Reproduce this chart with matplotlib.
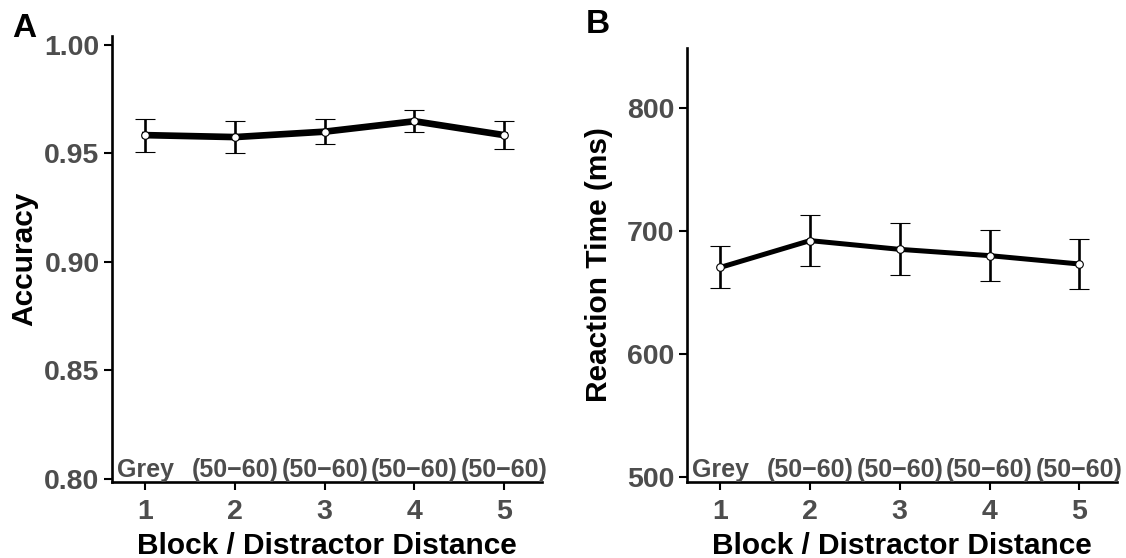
import numpy as np
import matplotlib
matplotlib.use("Agg")
import matplotlib.pyplot as plt
import matplotlib.transforms as mtransforms

plt.rcParams['font.family'] = ['Liberation Sans', 'DejaVu Sans']
plt.rcParams['font.weight'] = 'bold'

# data
blocks = [1, 2, 3, 4, 5]
block_names = ["Grey", "(50\u221260)", "(50\u221260)", "(50\u221260)", "(50\u221260)"]

acc_mean = [0.9584, 0.9575, 0.9600, 0.9648, 0.9584]
acc_err = [0.0076, 0.0072, 0.0057, 0.0050, 0.0063]

rt_mean = [670.4, 692.2, 685.1, 680.0, 673.2]
rt_err = [17.1, 20.5, 21.2, 20.5, 20.1]

tick_grey = '#4d4d4d'

fig = plt.figure(figsize=(11.26, 5.58), dpi=100)
ax_a = fig.add_axes([0.0995, 0.1362, 0.3818, 0.7993])
ax_b = fig.add_axes([0.6101, 0.1362, 0.3819, 0.7783])


def style_axis(ax, ylabel):
    for s in ['top', 'right']:
        ax.spines[s].set_visible(False)
    for s in ['left', 'bottom']:
        ax.spines[s].set_linewidth(1.9)
    ax.tick_params(axis='both', length=6, width=1.5, color='black',
                   labelsize=20.5, labelcolor=tick_grey, pad=3)
    ax.tick_params(axis='x', pad=6)
    ax.set_xticks(blocks)
    ax.set_xlim(0.63, 5.42)
    ax.set_xlabel("Block / Distractor Distance", fontsize=21.5, fontweight='bold', labelpad=5)
    ax.set_ylabel(ylabel, fontsize=21.5, fontweight='bold')
    ax.yaxis.set_label_coords(-0.172, 0.5)
    trans = mtransforms.blended_transform_factory(ax.transData, ax.transAxes)
    for x, name in zip(blocks, block_names):
        ax.text(x, 0.012, name, transform=trans, ha='center', va='baseline',
                fontsize=18, fontweight='bold', color=tick_grey)


# Panel A - accuracy
ax_a.errorbar(blocks, acc_mean, yerr=acc_err, color='black', linewidth=4.8,
              elinewidth=1.9, capsize=7, capthick=1.9, marker='o',
              markersize=5.5, markerfacecolor='white', markeredgecolor='black',
              markeredgewidth=0.8)
ax_a.set_ylim(0.7985, 1.0041)
ax_a.set_yticks([0.80, 0.85, 0.90, 0.95, 1.00])
ax_a.set_yticklabels(["0.80", "0.85", "0.90", "0.95", "1.00"])
style_axis(ax_a, "Accuracy")

# Panel B - reaction time
ax_b.errorbar(blocks, rt_mean, yerr=rt_err, color='black', linewidth=3.6,
              elinewidth=1.9, capsize=7.4, capthick=1.9, marker='o',
              markersize=5.5, markerfacecolor='white', markeredgecolor='black',
              markeredgewidth=0.8)
ax_b.set_ylim(496, 849)
ax_b.set_yticks([500, 600, 700, 800])
style_axis(ax_b, "Reaction Time (ms)")

fig.text(0.0107, 0.934, "A", fontsize=24, fontweight='bold', color='black', va='baseline')
fig.text(0.5205, 0.941, "B", fontsize=24, fontweight='bold', color='black', va='baseline')

fig.savefig("out.png", dpi=100)
